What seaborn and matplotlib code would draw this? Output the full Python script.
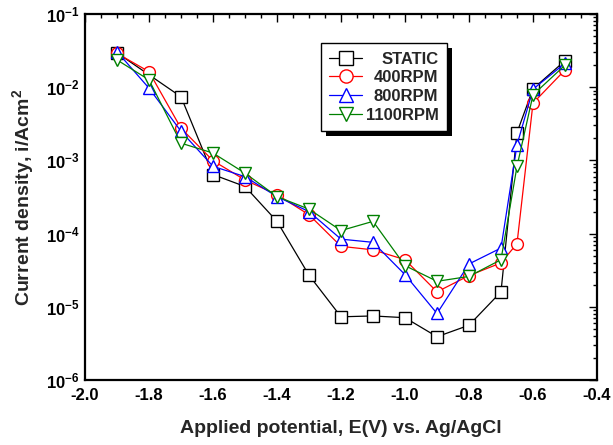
import numpy as np
import pandas as pd
import seaborn as sns
import matplotlib.pyplot as plt
from matplotlib.ticker import FixedLocator, FixedFormatter, LogLocator, MultipleLocator, NullFormatter
from matplotlib.patches import Rectangle
from matplotlib.transforms import IdentityTransform

# potential (V vs Ag/AgCl)
x_static = [-1.9, -1.7, -1.6, -1.5, -1.4, -1.3, -1.2, -1.1, -1.0, -0.9, -0.8, -0.7, -0.65, -0.6, -0.5]
y_static = [2.95e-2, 7.4e-3, 6.4e-4, 4.4e-4, 1.47e-4, 2.7e-5, 7.3e-6, 7.5e-6, 7.1e-6, 3.9e-6, 5.6e-6, 1.6e-5,
            2.4e-3, 9.5e-3, 2.3e-2]

x_rpm = [-1.9, -1.8, -1.7, -1.6, -1.5, -1.4, -1.3, -1.2, -1.1, -1.0, -0.9, -0.8, -0.7, -0.65, -0.6, -0.5]
y_400 = [2.9e-2, 1.63e-2, 2.75e-3, 9.9e-4, 5.4e-4, 3.4e-4, 1.81e-4, 6.7e-5, 6.0e-5, 4.4e-5, 1.6e-5, 2.67e-5,
         3.98e-5, 7.3e-5, 6.05e-3, 1.72e-2]
y_800 = [3.06e-2, 9.7e-3, 2.5e-3, 8.3e-4, 6.0e-4, 3.2e-4, 2.0e-4, 8.4e-5, 7.6e-5, 2.75e-5, 8.1e-6, 3.85e-5,
         6.35e-5, 1.63e-3, 9.4e-3, 2.12e-2]
y_1100 = [2.36e-2, 1.26e-2, 1.72e-3, 1.26e-3, 6.7e-4, 3.2e-4, 2.16e-4, 1.1e-4, 1.47e-4, 3.65e-5, 2.23e-5, 2.6e-5,
          4.4e-5, 8.3e-4, 7.85e-3, 2.0e-2]

labels = ['STATIC', '400RPM', '800RPM', '1100RPM']
colors = ['black', 'red', 'blue', 'green']
markers = ['s', 'o', '^', 'v']

df = pd.concat([
    pd.DataFrame({'E': x_static, 'i': y_static, 'series': labels[0]}),
    pd.DataFrame({'E': x_rpm, 'i': y_400, 'series': labels[1]}),
    pd.DataFrame({'E': x_rpm, 'i': y_800, 'series': labels[2]}),
    pd.DataFrame({'E': x_rpm, 'i': y_1100, 'series': labels[3]}),
])

sns.set_theme(style='white')
plt.rcParams['font.family'] = ['Liberation Sans', 'DejaVu Sans']
plt.rcParams['font.weight'] = 'bold'
plt.rcParams['mathtext.fontset'] = 'custom'
plt.rcParams['mathtext.rm'] = 'Liberation Sans:bold'
plt.rcParams['mathtext.bf'] = 'Liberation Sans:bold'
plt.rcParams['mathtext.default'] = 'bf'

fig = plt.figure(figsize=(6.13, 4.45), dpi=100)
ax = fig.add_axes([85 / 613, 1 - 380 / 445, 512 / 613, 366 / 445])

sns.lineplot(data=df, x='E', y='i', hue='series', style='series', hue_order=labels, style_order=labels,
             palette=dict(zip(labels, colors)), markers=dict(zip(labels, markers)), dashes=False,
             sort=True, estimator=None, ax=ax, linewidth=0.9, markersize=8.5, markerfacecolor='white',
             markeredgewidth=1.0, legend=False)
# give each series its own marker edge colour
for line, c in zip(ax.get_lines(), colors):
    line.set_markeredgecolor(c)

ax.set_yscale('log')
ax.set_xlim(-2.0, -0.4)
ax.set_ylim(1e-6, 1e-1)

ax.xaxis.set_major_locator(MultipleLocator(0.2))
ax.xaxis.set_minor_locator(MultipleLocator(0.05))
ax.set_xticklabels([f'{v:.1f}' for v in ax.get_xticks()])
decades = [1e-6, 1e-5, 1e-4, 1e-3, 1e-2, 1e-1]
ax.yaxis.set_major_locator(FixedLocator(decades))
ax.yaxis.set_major_formatter(FixedFormatter([r'$10^{%d}$' % int(np.log10(d)) for d in decades]))
ax.yaxis.set_minor_locator(LogLocator(base=10, subs=np.arange(2, 10), numticks=20))
ax.yaxis.set_minor_formatter(NullFormatter())

ax.tick_params(which='both', direction='in', top=True, right=True, labelsize=12, width=1.0, color='black',
               labelcolor='black')
ax.tick_params(which='major', length=6)
ax.tick_params(axis='x', which='major', pad=6)
ax.tick_params(axis='y', which='major', pad=4)
ax.tick_params(which='minor', length=3)
for s in ax.spines.values():
    s.set_linewidth(1.6)
    s.set_color('black')

ax.set_xlabel('Applied potential, E(V) vs. Ag/AgCl', fontsize=14, fontweight='bold', labelpad=12)
ax.set_ylabel(r'Current density, i/Acm$^{2}$', fontsize=14, fontweight='bold', labelpad=7)

handles = [plt.Line2D([], [], color=c, marker=m, markersize=9.5, markerfacecolor='white', markeredgecolor=c,
                      linewidth=0.9) for c, m in zip(colors, markers)]
leg = ax.legend(handles, labels, loc='upper left', bbox_to_anchor=(0.46, 0.92), frameon=True, fancybox=False,
                framealpha=1, edgecolor='black', prop={'weight': 'bold', 'size': 12}, handlelength=2.0,
                handletextpad=0.2, labelspacing=0.22, borderpad=0.5, borderaxespad=0)
leg.get_frame().set_linewidth(1.0)

fig.canvas.draw()
# right-align legend labels
widths = [t.get_window_extent().width for t in leg.get_texts()]
for t, w in zip(leg.get_texts(), widths):
    t.set_position((max(widths) - w, 0))
# solid drop shadow behind the legend box
bb = leg.get_window_extent()
ax.add_patch(Rectangle((bb.x0 + 5, bb.y0 - 5), bb.width, bb.height, transform=IdentityTransform(),
                       facecolor='black', edgecolor='none', zorder=4.9, clip_on=False))

fig.savefig('out.png', dpi=100)
